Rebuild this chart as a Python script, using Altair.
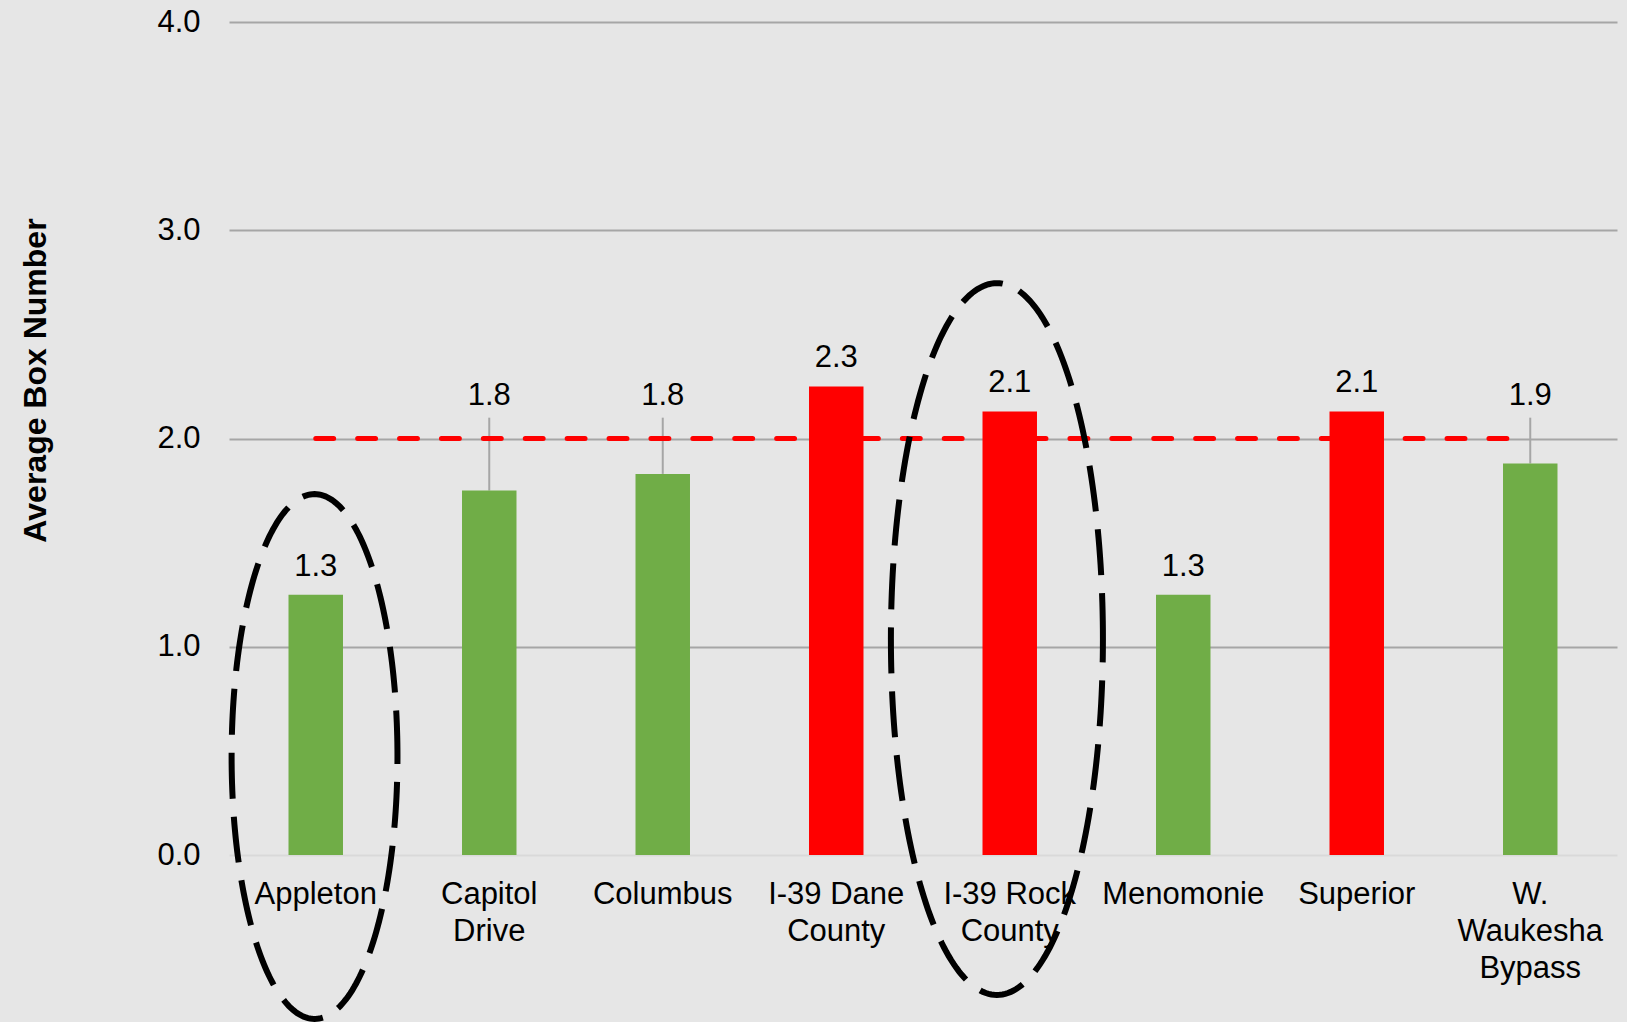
import json

import numpy as np
import pandas as pd
import altair as alt

# Average box number per site
categories = [
    "Appleton",
    "Capitol Drive",
    "Columbus",
    "I-39 Dane County",
    "I-39 Rock County",
    "Menomonie",
    "Superior",
    "W. Waukesha Bypass",
]
avg_box = [1.25, 1.75, 1.83, 2.25, 2.13, 1.25, 2.13, 1.88]
target = 2.0
y_ticks = [0, 1, 2, 3, 4]

# value labels lifted above the target line, tied to their bar with a leader
raised = ["Capitol Drive", "Columbus", "W. Waukesha Bypass"]

# line breaks used on the category axis
wrapped = {
    "Capitol Drive": ["Capitol", "Drive"],
    "I-39 Dane County": ["I-39 Dane", "County"],
    "I-39 Rock County": ["I-39 Rock", "County"],
    "W. Waukesha Bypass": ["W.", "Waukesha", "Bypass"],
}

# ringed sites: centre (in category steps), half width, centre (box units), half height
highlights = [
    (0.493, 0.478, 0.473, 1.26),
    (4.426, 0.611, 1.037, 1.709),
]

FONT = "Liberation Sans"
GREEN = "#70ad47"
RED = "#ff0000"
GRID = "#a6a6a6"
BG = "#e6e6e6"
RAISED_LEVEL = 2.16
LEADER_TOP = 2.10

df = pd.DataFrame({"category": categories, "value": avg_box})
target_df = pd.DataFrame({"category": [categories[0], categories[-1]], "target": [target, target]})

rows = []
t = np.linspace(0.0, 2.0 * np.pi, 241)
for k, (cx, rx, cy, ry) in enumerate(highlights):
    for i, a in enumerate(t):
        rows.append({"id": k, "i": i, "ex": cx + rx * np.cos(a), "ey": cy + ry * np.sin(a)})
ring_df = pd.DataFrame(rows)

label_expr = " : ".join(
    f"datum.label === {json.dumps(k)} ? {json.dumps(v)}" for k, v in wrapped.items()
) + " : datum.label"

x_enc = alt.X(
    "category:N",
    sort=categories,
    scale=alt.Scale(domain=categories, paddingInner=0, paddingOuter=0),
    axis=alt.Axis(
        title=None,
        labelAngle=0,
        labelFont=FONT,
        labelFontSize=31,
        labelColor="#000000",
        labelLineHeight=37,
        labelPadding=24,
        labelExpr=label_expr,
        ticks=False,
        tickSize=0,
        domain=False,
        labelBaseline="top",
    ),
)

y_scale = alt.Scale(domain=[0, 4], nice=False, zero=True)
y_axis = alt.Axis(
    values=y_ticks,
    format=".1f",
    title="Average Box Number",
    titleFont=FONT,
    titleFontSize=32,
    titleFontWeight="bold",
    titleColor="#000000",
    titleAngle=270,
    titleAlign="center",
    titleBaseline="alphabetic",
    titleX=-184,
    titleY=358,
    labelFont=FONT,
    labelFontSize=31,
    labelColor="#000000",
    labelPadding=29,
    ticks=False,
    tickSize=0,
    domain=False,
    grid=True,
    gridColor=alt.condition("datum.value === 0", alt.value("#d9d9d9"), alt.value(GRID)),
    gridWidth=2,
)


def y_enc(field):
    return alt.Y(field, scale=y_scale, axis=y_axis, title="Average Box Number")


bars = alt.Chart(df).mark_bar(width=alt.RelativeBandSize(0.314)).encode(
    x=x_enc,
    y=y_enc("value:Q"),
    color=alt.condition(alt.datum.value > target, alt.value(RED), alt.value(GREEN)),
)

raised_json = json.dumps(raised)

labels = (
    alt.Chart(df)
    .transform_filter(f"indexof({raised_json}, datum.category) < 0")
    .mark_text(font=FONT, fontSize=31, color="#000000", baseline="alphabetic", dy=-19)
    .encode(x=x_enc, y=y_enc("value:Q"), text=alt.Text("value:Q", format=".1f"))
)

raised_labels = (
    alt.Chart(df)
    .transform_filter(f"indexof({raised_json}, datum.category) >= 0")
    .transform_calculate(label_y=str(RAISED_LEVEL))
    .mark_text(font=FONT, fontSize=31, color="#000000", baseline="alphabetic")
    .encode(x=x_enc, y=y_enc("label_y:Q"), text=alt.Text("value:Q", format=".1f"))
)

leaders = (
    alt.Chart(df)
    .transform_filter(f"indexof({raised_json}, datum.category) >= 0")
    .transform_calculate(top=str(LEADER_TOP))
    .mark_rule(color=GRID, strokeWidth=2)
    .encode(x=x_enc, y=y_enc("value:Q"), y2="top:Q")
)

target_line = alt.Chart(target_df).mark_line(
    color=RED, strokeWidth=5, strokeDash=[17.9, 24], strokeCap="round"
).encode(x=x_enc, y=y_enc("target:Q"))

main = alt.layer(leaders, bars, labels, raised_labels, target_line)

rings = alt.Chart(ring_df).mark_line(
    color="#000000", strokeWidth=6, strokeDash=[46, 18], strokeCap="butt"
).encode(
    x=alt.X("ex:Q", scale=alt.Scale(domain=[0, len(categories)], nice=False, zero=False), axis=None),
    y=y_enc("ey:Q"),
    detail="id:N",
    order="i:Q",
)

chart = (
    alt.layer(main, rings)
    .resolve_scale(x="independent")
    .properties(
        width=1388,
        height=833,
        autosize=alt.AutoSizeParams(type="none"),
        padding={"left": 229, "top": 22, "right": 10, "bottom": 167},
        background=BG,
    )
    .configure_view(stroke=None)
)

chart.save("out.html", embed_options={"renderer": "svg", "actions": False})
